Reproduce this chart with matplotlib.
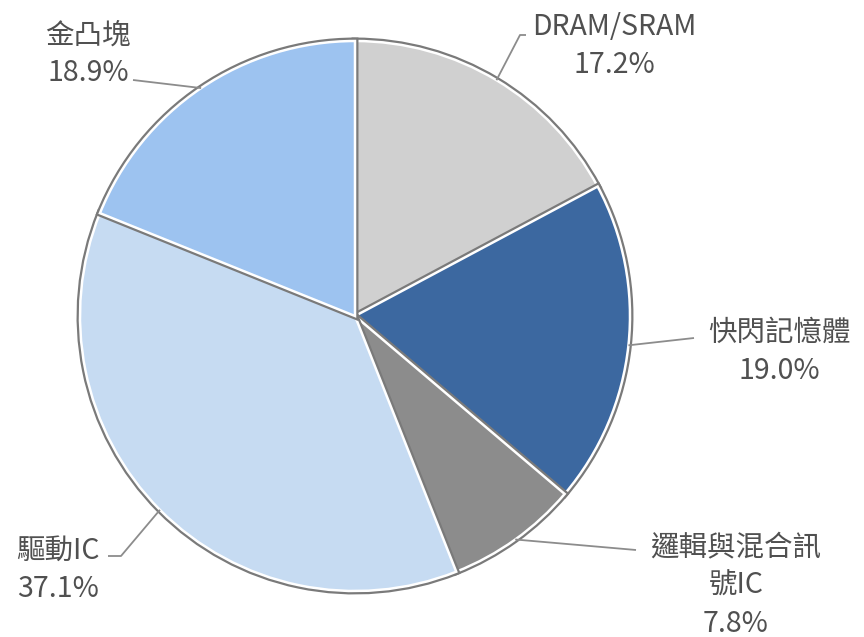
import numpy as np
import matplotlib.pyplot as plt
import matplotlib.patheffects as pe

plt.rcParams['font.family'] = ['Noto Sans CJK TC', 'DejaVu Sans']

# data
categories = ['DRAM/SRAM', '快閃記憶體', '邏輯與混合訊\n號IC', '驅動IC', '金凸塊']
shares = [17.2, 19.0, 7.8, 37.1, 18.9]
colors = ['#d0d0d0', '#3c68a0', '#8c8c8c', '#c6dbf2', '#9dc3f0']

# layout in pixels (figure is 864x637)
W, H = 864, 637
cx, cy, R = 355, 316, 275

def px(x, y):
    return (x - cx) / R, (cy - y) / R

# label text anchor (center of text block) and leader line end
label_pos = [(614, 46), (779, 352), (736, 586), (58, 570), (88, 54)]
leader_end = [[(520, 35), (526, 35)], [(694, 338)], [(636, 550)],
              [(121, 556), (108, 556)], [(133, 80)]]

fig = plt.figure(figsize=(W / 100, H / 100), dpi=100)
ax = fig.add_axes([0, 0, 1, 1])

wedges, _ = ax.pie(shares, colors=colors, startangle=90, counterclock=False,
                   radius=1.0, center=(0, 0), frame=False,
                   wedgeprops=dict(edgecolor='white', linewidth=1.8))
for w in wedges:
    w.set_path_effects([pe.Stroke(linewidth=5, foreground='#7a7a7a'), pe.Normal()])
ax.set_xlim(-cx / R, (W - cx) / R)
ax.set_ylim(-(H - cy) / R, cy / R)
ax.axis('off')

for w, cat, val, lp, le in zip(wedges, categories, shares, label_pos, leader_end):
    mid = np.deg2rad((w.theta1 + w.theta2) / 2)
    pts = [(np.cos(mid), np.sin(mid))] + [px(*p) for p in le]
    xs, ys = zip(*pts)
    ax.plot(xs, ys, color='#8c8c8c', lw=1.3, solid_capstyle='butt')
    tx, ty = px(*lp)
    ax.text(tx, ty, f'{cat}\n{val:.1f}%', ha='center', va='center',
            fontsize=20.5, color='#505050', linespacing=1.33)

fig.savefig('out.png', dpi=100)
